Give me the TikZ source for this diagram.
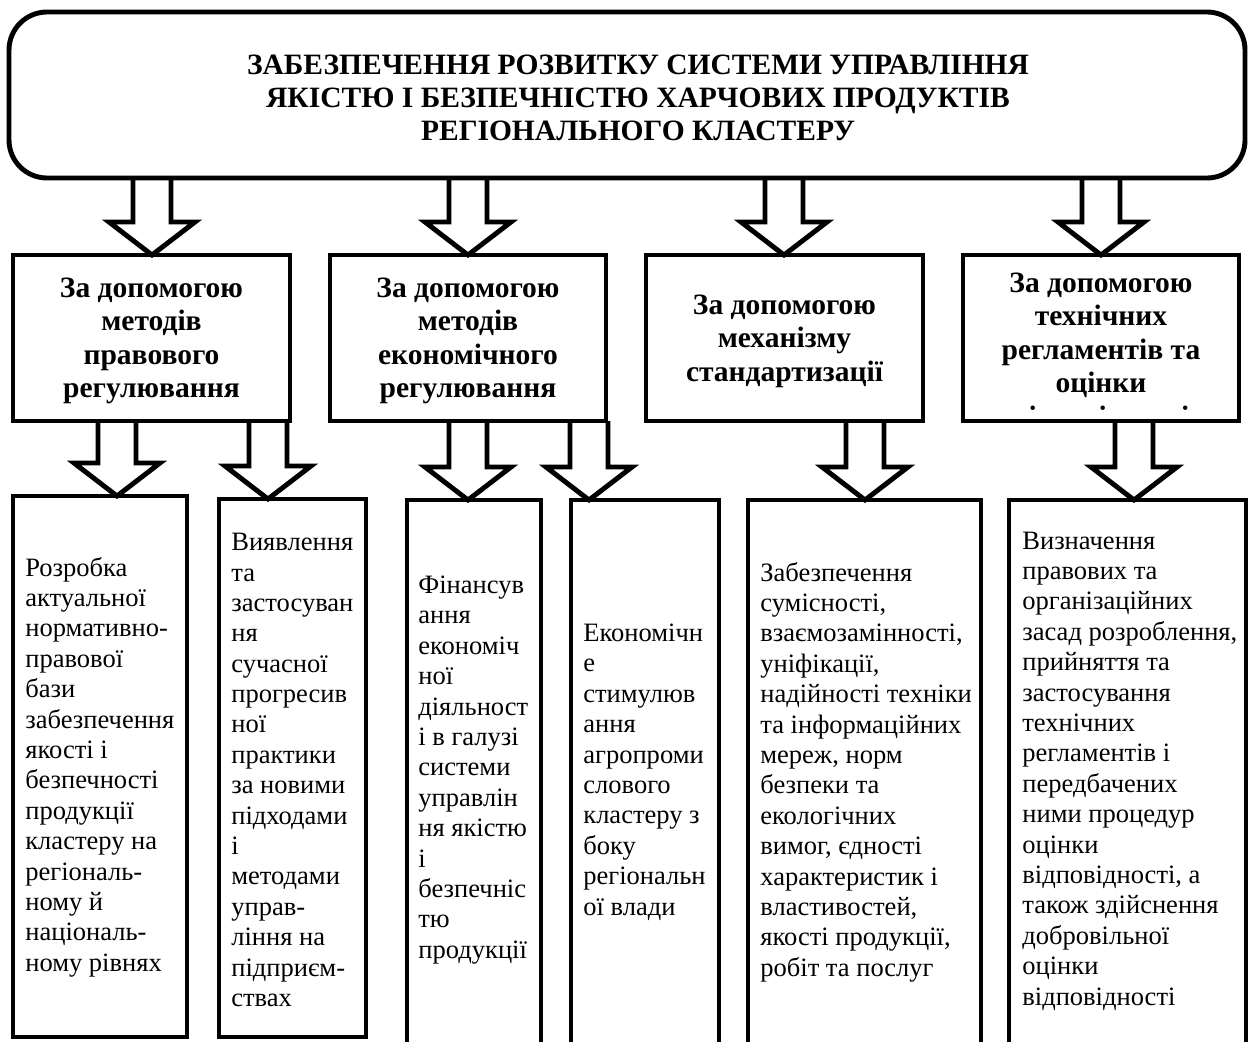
\documentclass[tikz,border=0pt]{standalone}
\usepackage{fontspec}
\setmainfont{Liberation Serif}
\usetikzlibrary{calc}
\tikzset{
  x=0.02cm, y=-0.02cm,
  frame/.style={draw, line width=2.8pt, inner sep=0pt, outer sep=0pt},
  arrowline/.style={draw, line width=2.8pt, line join=miter},
  boxtext/.style={inner sep=0pt, align=left, anchor=west, font=\fontsize{15.1pt}{17.3pt}\selectfont},
  headtext/.style={inner sep=0pt, align=center, font=\fontsize{16.8pt}{19.1pt}\selectfont\bfseries},
  titletext/.style={inner sep=0pt, align=center, font=\fontsize{16.8pt}{18.8pt}\selectfont\bfseries},
}
% #1 = x of arrow axis, #2 = source node, #3 = target node
\newcommand{\blkarrow}[3]{%
  \draw[arrowline]
    ($(#1,0 |- #2.south)+(-19,0)$) --
    ($(#1,0 |- #3.north)+(-19,-33)$) --
    ($(#1,0 |- #3.north)+(-43,-33)$) --
    (#1,0 |- #3.north) --
    ($(#1,0 |- #3.north)+(43,-33)$) --
    ($(#1,0 |- #3.north)+(19,-33)$) --
    ($(#1,0 |- #2.south)+(19,0)$);
}
\begin{document}
\begin{tikzpicture}
\useasboundingbox (0,0) rectangle (1250,1041);
\clip (0,0) rectangle (1250,1041);

% top box
\node[frame, rounded corners=0.76cm, minimum width=1236*0.02cm, minimum height=166*0.02cm] (top) at (627,95) {};
\node[titletext] (title) at (638,98) {ЗАБЕЗПЕЧЕННЯ РОЗВИТКУ СИСТЕМИ УПРАВЛІННЯ\\ЯКІСТЮ І БЕЗПЕЧНІСТЮ ХАРЧОВИХ ПРОДУКТІВ\\РЕГІОНАЛЬНОГО КЛАСТЕРУ};

% middle boxes
\node[frame, minimum width=277*0.02cm, minimum height=166*0.02cm] (m1) at (151.5,338) {};
\node[frame, minimum width=276*0.02cm, minimum height=166*0.02cm] (m2) at (468,338) {};
\node[frame, minimum width=277*0.02cm, minimum height=166*0.02cm] (m3) at (784.5,338) {};
\node[frame, minimum width=276*0.02cm, minimum height=166*0.02cm] (m4) at (1101,338) {};

\node[headtext] (mt1) at (151.5,341) {За допомогою\\методів\\правового\\регулювання};
\node[headtext] (mt2) at (468,341) {За допомогою\\методів\\економічного\\регулювання};
\node[headtext] (mt3) at (784.5,341) {За допомогою\\механізму\\стандартизації};
\begin{scope}
  \clip (966,258) rectangle (1236,411);
  \node[headtext] (mt4) at (1101,352) {За допомогою\\технічних\\регламентів та\\оцінки\\відповідності};
\end{scope}

% bottom boxes
\node[frame, minimum width=174*0.02cm, minimum height=541*0.02cm] (b1) at (100,766.5) {};
\node[frame, minimum width=147*0.02cm, minimum height=538*0.02cm] (b2) at (292.5,768) {};
\node[frame, minimum width=134*0.02cm, minimum height=550*0.02cm] (b3) at (474,775) {};
\node[frame, minimum width=148*0.02cm, minimum height=550*0.02cm] (b4) at (645,775) {};
\node[frame, minimum width=233*0.02cm, minimum height=550*0.02cm] (b5) at (864.5,775) {};
\node[frame, minimum width=237*0.02cm, minimum height=550*0.02cm] (b6) at (1127.5,775) {};

\node[boxtext] (bt1) at (25,767) {Розробка\\актуальної\\нормативно-\\правової\\бази\\забезпечення\\якості і\\безпечності\\продукції\\кластеру на\\регіональ-\\ному й\\національ-\\ному рівнях};
\node[boxtext] (bt2) at (231,770) {Виявлення\\та\\застосуван\\ня\\сучасної\\прогресив\\ної\\практики\\за новими\\підходами\\і\\методами\\управ-\\ління на\\підприєм-\\ствах};
\node[boxtext] (bt3) at (418,770) {Фінансув\\ання\\економіч\\ної\\діяльност\\і в галузі\\системи\\управлін\\ня якістю\\і\\безпечніс\\тю\\продукції};
\node[boxtext] (bt4) at (583,772) {Економічн\\е\\стимулюв\\ання\\агропроми\\слового\\кластеру з\\боку\\регіональн\\ої влади};
\node[boxtext] (bt5) at (760,772) {Забезпечення\\сумісності,\\взаємозамінності,\\уніфікації,\\надійності техніки\\та інформаційних\\мереж, норм\\безпеки та\\екологічних\\вимог, єдності\\характеристик і\\властивостей,\\якості продукції,\\робіт та послуг};
\node[boxtext] (bt6) at (1022,771) {Визначення\\правових та\\організаційних\\засад розроблення,\\прийняття та\\застосування\\технічних\\регламентів і\\передбачених\\ними процедур\\оцінки\\відповідності, а\\також здійснення\\добровільної\\оцінки\\відповідності};

% block arrows, top level
\blkarrow{152}{top}{m1}
\blkarrow{468}{top}{m2}
\blkarrow{784}{top}{m3}
\blkarrow{1101}{top}{m4}

% block arrows, second level
\blkarrow{117}{m1}{b1}
\blkarrow{268}{m1}{b2}
\blkarrow{468}{m2}{b3}
\blkarrow{589}{m2}{b4}
\blkarrow{865}{m3}{b5}
\blkarrow{1134}{m4}{b6}
\end{tikzpicture}
\end{document}
